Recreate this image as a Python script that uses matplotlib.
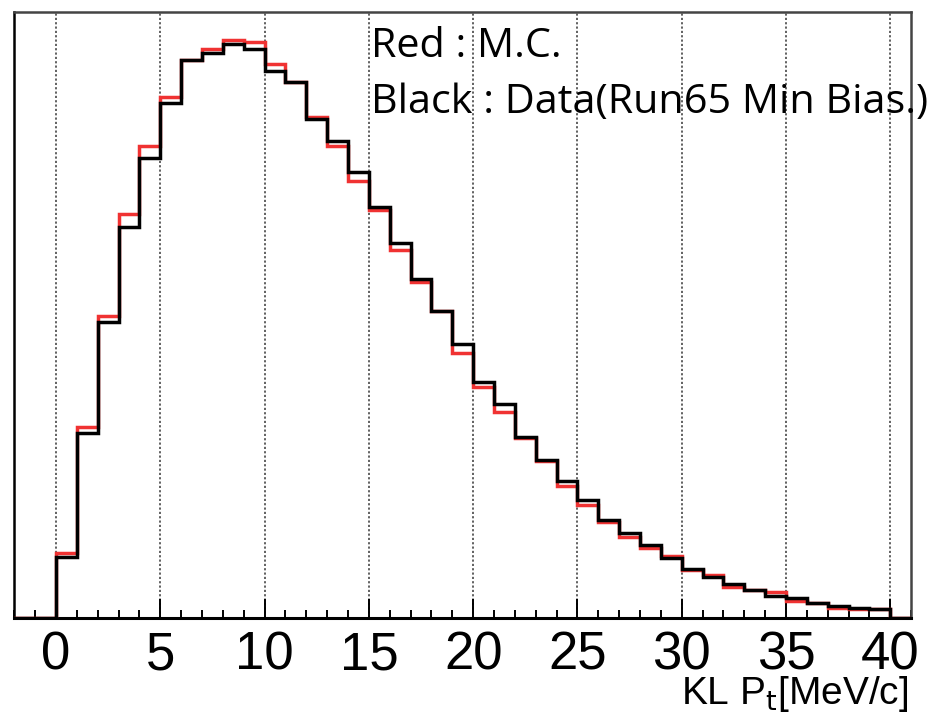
import numpy as np
import matplotlib
matplotlib.use("Agg")
import matplotlib.pyplot as plt
from matplotlib.ticker import MultipleLocator

# Bin edges: 1 MeV/c bins from 0 to 40 (plus an empty bin 40-41)
bin_edges = list(range(0, 42))

mc_counts = [647, 1907, 3022, 4034, 4720, 5210, 5572, 5689, 5777, 5752,
             5534, 5360, 5002, 4717, 4367, 4077, 3677, 3362, 3067, 2652,
             2304, 2057, 1802, 1572, 1317, 1127, 962, 812, 697, 622,
             477, 432, 307, 282, 257, 172, 152, 102, 92, 87, 0]

data_counts = [612, 1847, 2957, 3910, 4600, 5150, 5572, 5644, 5737, 5684,
               5470, 5360, 4987, 4767, 4452, 4102, 3744, 3392, 3067, 2737,
               2360, 2140, 1812, 1580, 1372, 1177, 977, 847, 727, 597,
               492, 407, 342, 277, 217, 197, 152, 117, 100, 87, 0]

xticks = [0, 5, 10, 15, 20, 25, 30, 35, 40]
xlabel = r"KL P$_{\mathrm{t}}$[MeV/c]"
note_lines = ["Red : M.C.", "Black : Data(Run65 Min Bias.)"]

W, H = 933, 714
fig = plt.figure(figsize=(W / 100, H / 100), dpi=100)
ax = fig.add_axes([14.3 / W, 1 - 617.7 / H, (911.2 - 14.3) / W, (617.7 - 12) / H])

def step_xy(edges, counts):
    xs = [-2.0]
    ys = [0.0]
    for i, c in enumerate(counts):
        xs += [edges[i], edges[i]]
        ys += [ys[-1], c]
        xs.append(edges[i + 1])
        ys.append(c)
    return xs, ys

xm, ym = step_xy(bin_edges, mc_counts)
xd, yd = step_xy(bin_edges, data_counts)

for x in xticks:
    ax.axvline(x, color="#555555", lw=1.3, ls=(0, (1.2, 1.2)), zorder=1)

ax.plot(xm, ym, color="#f03232", lw=2.5, zorder=3, solid_joinstyle="miter")
ax.plot(xd, yd, color="black", lw=2.5, zorder=4, solid_joinstyle="miter")

ax.set_xlim(-2, 41)
ax.set_ylim(0, 6057)

ax.set_xticks(xticks)
ax.xaxis.set_minor_locator(MultipleLocator(1))
ax.set_yticks([])
ax.tick_params(axis="x", which="major", direction="in", length=13.5, width=1.4,
               labelsize=38, pad=9, colors="black")
ax.tick_params(axis="x", which="minor", direction="in", length=5.8, width=1.4)
for lab in ax.get_xticklabels():
    lab.set_fontfamily("Liberation Sans")

ax.spines["bottom"].set_linewidth(2.2)
ax.spines["left"].set_linewidth(1.8)
ax.spines["top"].set_linewidth(1.8)
ax.spines["top"].set_color("#444444")
ax.spines["right"].set_linewidth(1.8)
ax.spines["right"].set_color("#444444")

fig.text(908 / W, 1 - 704 / H, xlabel, ha="right", va="baseline",
         fontsize=28, family="Liberation Sans")

fig.text(371 / W, 1 - 56.7 / H, note_lines[0], ha="left", va="baseline",
         fontsize=29.8, family="Open Sans")
fig.text(371 / W, 1 - 112.7 / H, note_lines[1], ha="left", va="baseline",
         fontsize=29.8, family="Open Sans")

fig.savefig("out.png", dpi=100, facecolor="white")
